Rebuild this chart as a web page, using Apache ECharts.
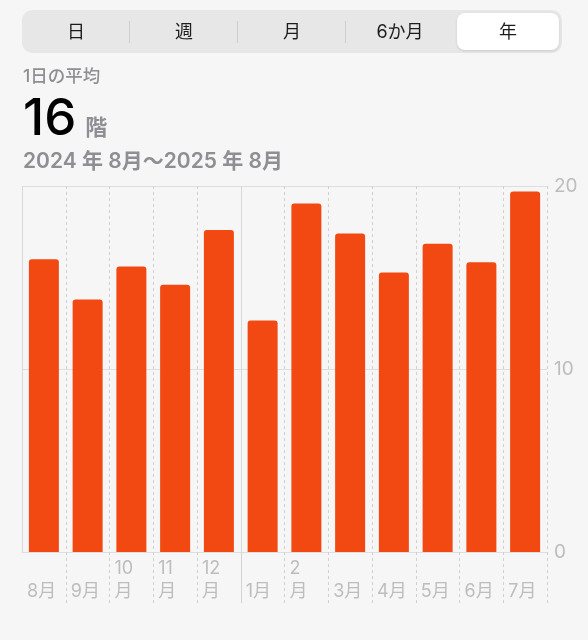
<!DOCTYPE html>
<html>
<head>
<meta charset="utf-8">
<script src="https://cdn.jsdelivr.net/npm/echarts@6/dist/echarts.min.js"></script>
<style>
    html,body{margin:0;padding:0;background:#f6f6f6;}
    body{width:588px;height:640px;position:relative;overflow:hidden;
        font-family:"Inter","Noto Sans CJK JP",sans-serif;}
    #chart{position:absolute;left:0;top:0;width:588px;height:640px;}
    .seg{position:absolute;left:22px;top:10px;width:540px;height:43px;border-radius:10px;background:#e7e7e7;}
    .seg-item{position:absolute;top:0;width:108px;height:43px;line-height:43px;text-align:center;font-size:18px;color:#1c1c1c;}
    .seg-sep{position:absolute;top:11px;width:1px;height:22px;background:#cfcfcf;}
    .seg-on{position:absolute;left:435px;top:3px;width:102px;height:37px;border-radius:8px;background:#fff;
        box-shadow:0 1px 3px rgba(0,0,0,0.12);}
    .sub{position:absolute;left:23px;color:#8e8e93;font-weight:500;white-space:nowrap;}
</style>
</head>
<body>
<div id="chart"></div>
<div class="seg">
    <div class="seg-on"></div>
    <div class="seg-item" style="left:0">日</div>
    <div class="seg-sep" style="left:107px"></div>
    <div class="seg-item" style="left:108px">週</div>
    <div class="seg-sep" style="left:215px"></div>
    <div class="seg-item" style="left:216px">月</div>
    <div class="seg-sep" style="left:323px"></div>
    <div class="seg-item" style="left:324px">6か月</div>
    <div class="seg-item" style="left:432px">年</div>
</div>
<div class="sub" style="top:64px;font-size:17.5px;line-height:24px;">1日の平均</div>
<div class="sub" style="top:89px;line-height:56px;">
    <span style="font-size:51px;color:#000;font-weight:500;">16</span><span style="font-size:22px;font-weight:600;margin-left:9px;">階</span>
</div>
<div class="sub" style="top:147px;font-size:21px;line-height:28px;font-weight:600;">2024 年 8月〜2025 年 8月</div>
<script>
// 月ごとの1日平均（階）
let months = ['8月','9月','10月','11月','12月','1月','2月','3月','4月','5月','6月','7月'];
let floors = [16.0, 13.8, 15.6, 14.6, 17.6, 12.65, 19.05, 17.4, 15.27, 16.85, 15.83, 19.7];
// 目盛ラベル（区切り位置に左寄せ）
let tickLabels = ['8月','9月','10\n月','11\n月','12\n月','1月','2\n月','3月','4月','5月','6月','7月',''];
let yearStart = 5; // 1月の前の区切り

let gridColor = '#dedede';
let labelColor = '#bdbdbd';

let chart = echarts.init(document.getElementById('chart'));
let option = {
    backgroundColor: 'transparent',
    animation: false,
    grid: {left: 22, right: 41, top: 186, bottom: 88},
    xAxis: [{
        type: 'category',
        data: months,
        axisLine: {show: true, lineStyle: {color: gridColor, width: 1}},
        axisTick: {show: false},
        axisLabel: {show: false},
        splitLine: {show: false}
    }, {
        // 破線の区切りと月ラベル
        type: 'category',
        data: tickLabels,
        boundaryGap: false,
        position: 'bottom',
        axisLine: {show: false},
        axisTick: {
            show: true,
            length: 51,
            interval: function (i) { return i !== 0 && i !== yearStart; },
            lineStyle: {color: '#d0d0d0', type: [3, 3], width: 1}
        },
        axisLabel: {
            show: true,
            interval: 0,
            align: 'left',
            verticalAlign: 'bottom',
            margin: 51,
            padding: [0, 0, 0, 5],
            lineHeight: 23,
            fontSize: 18,
            color: labelColor,
            fontFamily: 'Inter, "Noto Sans CJK JP"'
        },
        splitLine: {
            show: true,
            interval: function (i) { return i !== 0 && i !== yearStart; },
            lineStyle: {color: '#d0d0d0', type: [3, 3], width: 1}
        }
    }, {
        // 実線（左端と年の区切り）
        type: 'category',
        data: tickLabels,
        boundaryGap: false,
        position: 'bottom',
        axisLine: {show: false},
        axisTick: {
            show: true,
            length: 51,
            interval: function (i) { return i === yearStart; },
            lineStyle: {color: '#d4d4d4', width: 1}
        },
        axisLabel: {show: false},
        splitLine: {
            show: true,
            interval: function (i) { return i === 0 || i === yearStart; },
            lineStyle: {color: '#d8d8d8', width: 1}
        }
    }],
    yAxis: {
        type: 'value',
        position: 'right',
        min: 0,
        max: 20,
        interval: 10,
        axisLine: {show: false},
        axisTick: {show: false},
        axisLabel: {margin: 7, fontSize: 19, color: labelColor, fontFamily: 'Inter'},
        splitLine: {show: true, lineStyle: {color: gridColor, width: 1}}
    },
    series: [{
        type: 'bar',
        xAxisIndex: 0,
        data: floors,
        barWidth: 30,
        itemStyle: {color: '#f24912', borderRadius: [3, 3, 0, 0]},
        z: 3
    }]
};
chart.setOption(option);
</script>
</body>
</html>
